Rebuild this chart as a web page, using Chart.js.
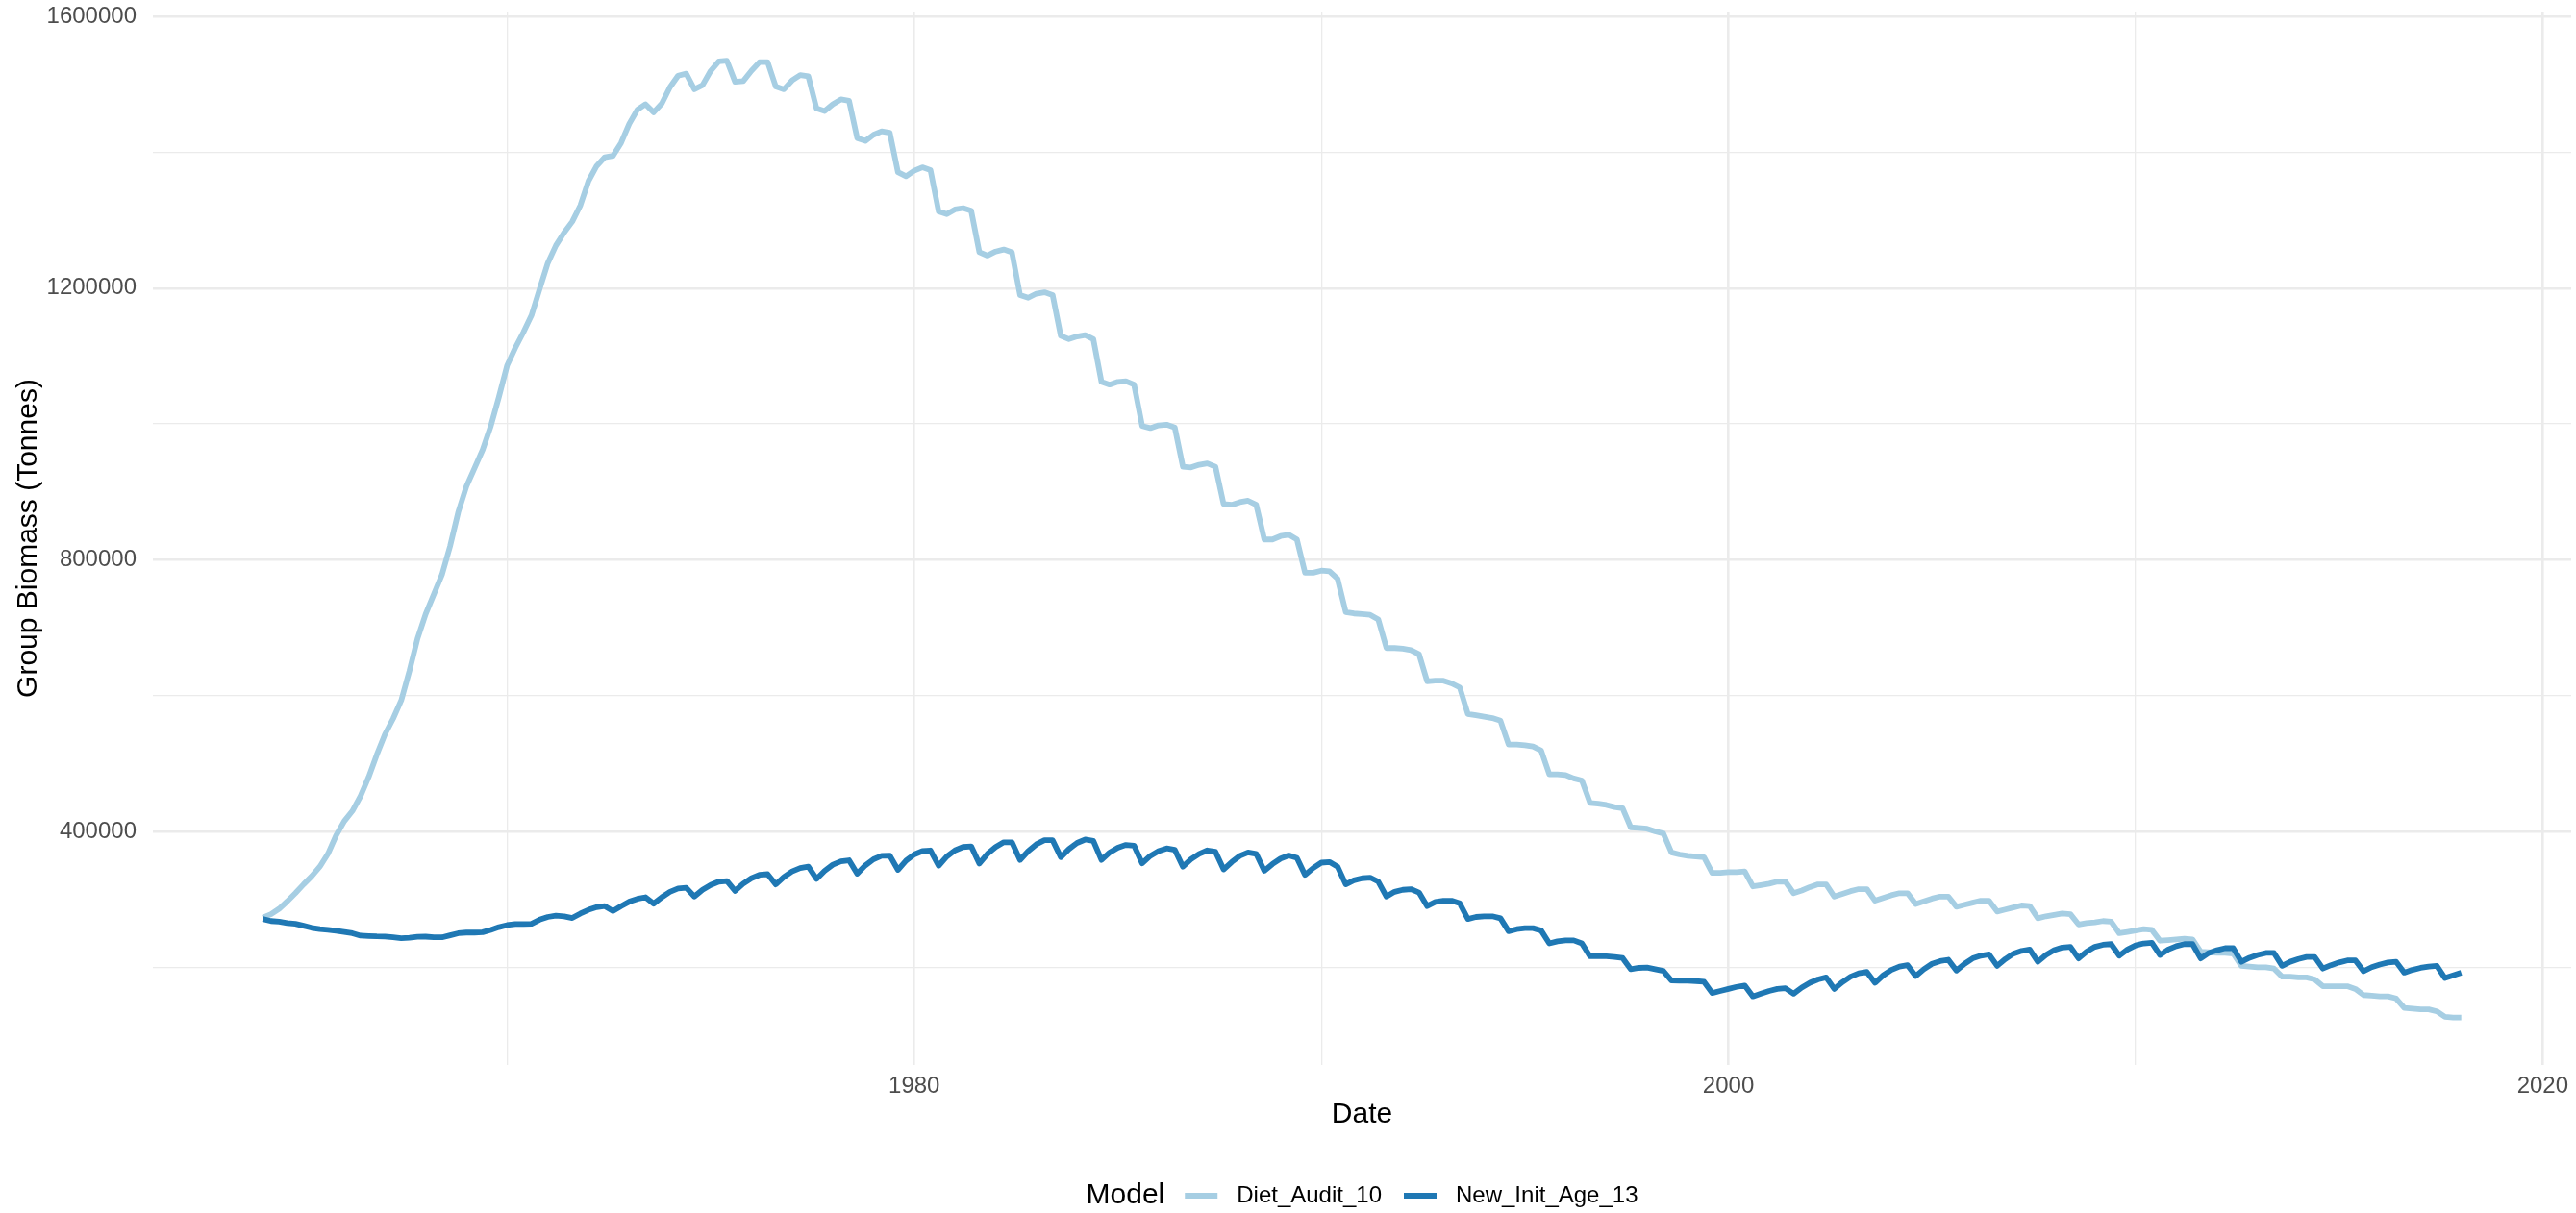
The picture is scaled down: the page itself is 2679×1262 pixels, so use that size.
<!DOCTYPE html>
<html>
<head>
<meta charset="utf-8">
<title>Group Biomass</title>
<script src="https://cdn.jsdelivr.net/npm/chart.js@4.4.1/dist/chart.umd.min.js"></script>
<style>
    html, body { margin: 0; padding: 0; background: #ffffff; }
    #wrap { width: 2679px; height: 1262px; }
</style>
</head>
<body>
<div id="wrap"><canvas id="biomassChart" width="2679" height="1262"></canvas></div>
<script>
// model output, 5 steps per year, starting at 1964.0
const startYear = 1964;
const stepYears = 0.2;

const dietAudit10 = [
    273000, 278000, 286000, 297000, 309000,
    322000, 334000, 348000, 367000, 394000,
    415000, 430000, 452000, 480000, 513000,
    543000, 566000, 593000, 636000, 684000,
    720000, 749000, 778000, 820000, 870000,
    908000, 935000, 962000, 997000, 1040000,
    1086000, 1112000, 1135000, 1160000, 1199000,
    1237000, 1263000, 1282000, 1298000, 1322000,
    1358000, 1380000, 1393000, 1395000, 1414000,
    1442000, 1463000, 1471000, 1459000, 1472000,
    1496000, 1513000, 1516000, 1493000, 1499000,
    1520000, 1534000, 1535000, 1504000, 1505000,
    1520000, 1533000, 1533000, 1497000, 1493000,
    1506000, 1514000, 1512000, 1465000, 1461000,
    1471000, 1478000, 1476000, 1421000, 1417000,
    1426000, 1431000, 1429000, 1371000, 1365000,
    1373000, 1378000, 1374000, 1313000, 1309000,
    1316000, 1318000, 1314000, 1253000, 1248000,
    1254000, 1257000, 1253000, 1190000, 1186000,
    1192000, 1194000, 1190000, 1130000, 1125000,
    1129000, 1131000, 1125000, 1062000, 1058000,
    1062000, 1063000, 1058000, 997000, 994000,
    998000, 999000, 995000, 937000, 936000,
    940000, 942000, 937000, 882000, 881000,
    885000, 887000, 881000, 830000, 830000,
    835000, 837000, 830000, 781000, 781000,
    784000, 783000, 772000, 723000, 721000,
    720000, 719000, 712000, 670000, 670000,
    669000, 667000, 661000, 621000, 622000,
    622000, 618000, 612000, 573000, 571000,
    569000, 567000, 563000, 528000, 528000,
    527000, 525000, 519000, 484000, 484000,
    483000, 478000, 475000, 442000, 441000,
    439000, 436000, 434000, 406000, 405000,
    404000, 400000, 397000, 369000, 366000,
    364000, 363000, 362000, 339000, 339000,
    340000, 340000, 341000, 319000, 321000,
    323000, 326000, 326000, 309000, 313000,
    318000, 322000, 322000, 304000, 308000,
    312000, 315000, 315000, 298000, 302000,
    306000, 309000, 309000, 293000, 297000,
    301000, 304000, 304000, 289000, 292000,
    295000, 298000, 298000, 282000, 285000,
    288000, 291000, 290000, 272000, 275000,
    277000, 279000, 278000, 263000, 265000,
    266000, 268000, 267000, 250000, 252000,
    254000, 256000, 255000, 239000, 240000,
    241000, 242000, 241000, 223000, 222000,
    221000, 221000, 220000, 202000, 201000,
    200000, 200000, 198000, 186000, 186000,
    185000, 185000, 182000, 172000, 172000,
    172000, 172000, 168000, 159000, 158000,
    157000, 157000, 154000, 140000, 139000,
    138000, 138000, 135000, 127000, 126000,
    126000
];

const newInitAge13 = [
    271000, 268000, 267000, 265000, 264000,
    261000, 258000, 256000, 255000, 253500,
    252000, 250000, 246500, 246000, 245500,
    245300, 244000, 242600, 243500, 244800,
    245000, 244000, 244000, 247000, 250000,
    251000, 251000, 251500, 255000, 259000,
    262000, 263500, 263500, 264000, 270000,
    274000, 276000, 275000, 272500, 279000,
    284500, 288500, 290000, 282700, 290000,
    296500, 300700, 303000, 293600, 303000,
    311000, 316000, 317000, 304000, 314000,
    321000, 326000, 327000, 312500, 323000,
    331000, 336000, 337000, 322000, 333000,
    341000, 346000, 348000, 330000, 342000,
    351000, 356000, 357500, 337600, 350000,
    359000, 364000, 364500, 343300, 357000,
    366000, 371000, 372000, 349400, 363000,
    372000, 377000, 378000, 352700, 367000,
    377000, 384000, 384000, 358000, 371000,
    381000, 387000, 387000, 362000, 374000,
    383000, 388000, 386000, 358000, 369000,
    376000, 380000, 379000, 353000, 364000,
    371000, 375000, 373000, 348000, 359000,
    367000, 372000, 370000, 344000, 355000,
    364000, 369000, 367000, 342000, 352000,
    360000, 364500, 361000, 336000, 346000,
    354000, 355000, 348000, 322000, 328000,
    331000, 332000, 326000, 304000, 311000,
    314000, 315000, 310000, 290000, 296000,
    298000, 298000, 294000, 271000, 274000,
    275000, 275000, 272000, 253000, 256000,
    257500, 257500, 254000, 235000, 238000,
    239500, 239500, 235000, 216000, 216500,
    216000, 215000, 213500, 197000, 199000,
    199500, 197000, 194500, 180500, 180000,
    180000, 179500, 178500, 162000, 165000,
    168000, 171000, 173000, 157000, 161000,
    165000, 168000, 169000, 161000, 170000,
    177000, 182000, 185000, 168000, 178000,
    186000, 191000, 193000, 177000, 188000,
    196000, 201000, 203000, 187000, 197000,
    205000, 209000, 211000, 195000, 205000,
    213000, 217000, 219000, 202000, 212000,
    220000, 224000, 226000, 208000, 218000,
    225000, 229000, 230000, 213000, 223000,
    230000, 233000, 234000, 217000, 226000,
    232000, 235000, 236000, 218000, 226000,
    231000, 234000, 234000, 213000, 221000,
    225000, 228000, 228000, 208000, 214000,
    218000, 221000, 221000, 202000, 208000,
    212000, 215000, 215000, 198000, 203000,
    207000, 210000, 210000, 194000, 200000,
    204000, 207000, 208000, 192000, 196000,
    199000, 201000, 202000, 184000, 188000,
    192000
];

const seriesNames = ['Diet_Audit_10', 'New_Init_Age_13'];
const seriesColors = ['#A6CEE3', '#1F78B4'];

const xTicks = [1970, 1980, 1990, 2000, 2010, 2020];
const xLabelTicks = [1980, 2000, 2020];
const yTicks = [200000, 400000, 600000, 800000, 1000000, 1200000, 1400000, 1600000];
const yLabelTicks = [400000, 800000, 1200000, 1600000];

const dates = dietAudit10.map((_, i) => +(startYear + i * stepYears).toFixed(1));

function toPoints(values) {
    return values.map((v, i) => ({ x: dates[i], y: v }));
}

const fontFamily = "'Liberation Sans', Arial, sans-serif";
Chart.defaults.font.family = fontFamily;

const gridColor = '#EBEBEB';
const majorWidth = 2.6;
const minorWidth = 1.3;

// legend drawn below the plot, ggplot style: title on the left, keys inline
const bottomLegend = {
    id: 'bottomLegend',
    afterDraw(chart) {
        const ctx = chart.ctx;
        const area = chart.chartArea;
        const y = 1244;
        const keyW = 34;
        ctx.save();
        ctx.textBaseline = 'middle';
        ctx.textAlign = 'left';

        ctx.font = '30px ' + fontFamily;
        const titleW = ctx.measureText('Model').width;
        ctx.font = '24px ' + fontFamily;
        const w1 = ctx.measureText(seriesNames[0]).width;
        const w2 = ctx.measureText(seriesNames[1]).width;
        const total = titleW + 21 + keyW + 20 + w1 + 23 + keyW + 20 + w2;
        let x = (area.left + area.right) / 2 - total / 2;

        ctx.fillStyle = '#000000';
        ctx.font = '30px ' + fontFamily;
        ctx.fillText('Model', x, y);
        x += titleW + 21;

        ctx.font = '24px ' + fontFamily;
        for (let i = 0; i < seriesNames.length; ++i) {
            ctx.strokeStyle = seriesColors[i];
            ctx.lineWidth = 6;
            ctx.beginPath();
            ctx.moveTo(x, y);
            ctx.lineTo(x + keyW, y);
            ctx.stroke();
            x += keyW + 20;
            ctx.fillStyle = '#000000';
            ctx.fillText(seriesNames[i], x, y);
            x += (i === 0 ? w1 : w2) + 23;
        }
        ctx.restore();
    }
};

new Chart(document.getElementById('biomassChart'), {
    type: 'line',
    data: {
        datasets: [{
            label: seriesNames[0],
            data: toPoints(dietAudit10),
            borderColor: seriesColors[0],
            backgroundColor: seriesColors[0],
            borderWidth: 5.8,
            order: 1
        }, {
            label: seriesNames[1],
            data: toPoints(newInitAge13),
            borderColor: seriesColors[1],
            backgroundColor: seriesColors[1],
            borderWidth: 5.8,
            order: 0
        }]
    },
    options: {
        responsive: false,
        animation: false,
        devicePixelRatio: 1,
        parsing: false,
        elements: {
            point: { radius: 0, hoverRadius: 0 },
            line: { tension: 0, borderJoinStyle: 'round', borderCapStyle: 'butt' }
        },
        layout: {
            padding: { top: 12, right: 5, bottom: 74, left: 0 }
        },
        scales: {
            x: {
                type: 'linear',
                min: 1961.3,
                max: 2020.7,
                afterBuildTicks: axis => { axis.ticks = xTicks.map(v => ({ value: v })); },
                afterFit: scale => {
                    scale.height = 80;
                    scale.paddingLeft = 0;
                    scale.paddingRight = 0;
                },
                ticks: {
                    autoSkip: false,
                    maxRotation: 0,
                    padding: 8,
                    color: '#4D4D4D',
                    font: { size: 24 },
                    callback: v => xLabelTicks.includes(v) ? String(v) : ''
                },
                grid: {
                    color: gridColor,
                    lineWidth: ctx => xLabelTicks.includes(ctx.tick.value) ? majorWidth : minorWidth,
                    drawTicks: false
                },
                border: { display: false },
                title: {
                    display: true,
                    text: 'Date',
                    color: '#000000',
                    font: { size: 30 },
                    padding: { top: 0, bottom: 10 }
                }
            },
            y: {
                type: 'linear',
                min: 56000,
                max: 1607500,
                afterBuildTicks: axis => { axis.ticks = yTicks.map(v => ({ value: v })); },
                afterFit: scale => {
                    scale.width = 159;
                    scale.paddingTop = 0;
                    scale.paddingBottom = 0;
                },
                ticks: {
                    autoSkip: false,
                    padding: 17,
                    color: '#4D4D4D',
                    font: { size: 24 },
                    callback: v => yLabelTicks.includes(v) ? String(v) : ''
                },
                grid: {
                    color: gridColor,
                    lineWidth: ctx => yLabelTicks.includes(ctx.tick.value) ? majorWidth : minorWidth,
                    drawTicks: false
                },
                border: { display: false },
                title: {
                    display: true,
                    text: 'Group Biomass (Tonnes)',
                    color: '#000000',
                    font: { size: 30 },
                    padding: { top: 12, bottom: 0 }
                }
            }
        },
        plugins: {
            legend: { display: false },
            tooltip: { enabled: false }
        }
    },
    plugins: [bottomLegend]
});
</script>
</body>
</html>
